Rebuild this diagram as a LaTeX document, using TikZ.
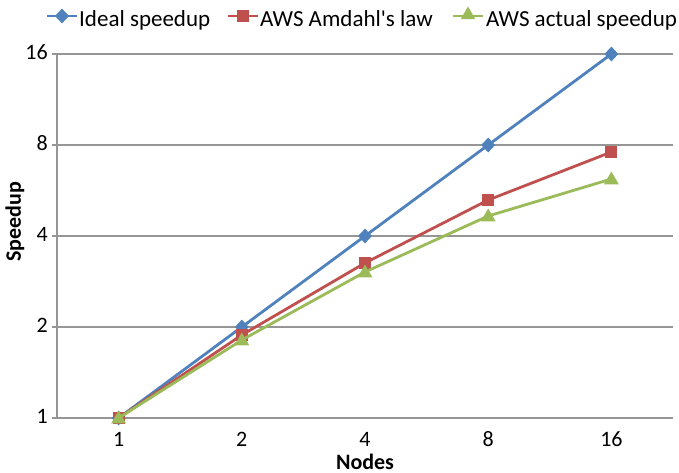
\documentclass[tikz,border=0pt]{standalone}
\usepackage{fontspec}
\setmainfont{Carlito}
\newfontfamily\calib{Carlito}
\usetikzlibrary{shapes.geometric}
\definecolor{sblue}{RGB}{79,129,189}
\definecolor{sred}{RGB}{192,80,77}
\definecolor{sgreen}{RGB}{155,187,89}
\definecolor{gridgray}{RGB}{150,150,150}
\begin{document}
\begin{tikzpicture}[x=1pt,y=-1pt,
  grid/.style={draw=gridgray,line width=2.6pt},
  ser/.style={line width=2.8pt,line join=round},
  dmark/.style={diamond,fill=sblue,inner sep=0pt,minimum width=14pt,minimum height=15pt},
  smark/.style={rectangle,fill=sred,inner sep=0pt,minimum size=12pt},
  tmark/.style={regular polygon,regular polygon sides=3,fill=sgreen,inner sep=0pt,minimum size=17pt},
  ticklab/.style={font=\fontsize{22}{25}\selectfont,inner sep=0pt},
  leglab/.style={font=\calib\fontsize{23}{27}\selectfont,inner sep=0pt,anchor=base west},
  axlab/.style={font=\fontsize{22}{26}\selectfont\bfseries,inner sep=0pt}]
\useasboundingbox (0,0) rectangle (679,473);
% gridlines
\foreach \yy in {54,145,236,327}{
  \draw[grid] (52,\yy) -- (673,\yy);
}
\draw[grid] (52,418) -- (673,418);
\draw[grid] (57,54) -- (57,418);
% y tick labels
\node[ticklab,anchor=east] (y16) at (48,52) {16};
\node[ticklab,anchor=east] (y8) at (48,143) {8};
\node[ticklab,anchor=east] (y4) at (48,234) {4};
\node[ticklab,anchor=east] (y2) at (48,325) {2};
\node[ticklab,anchor=east] (y1) at (48,416) {1};
% x tick labels
\node[ticklab] (x1) at (118.6,439) {1};
\node[ticklab] (x2) at (241.8,439) {2};
\node[ticklab] (x4) at (365,439) {4};
\node[ticklab] (x8) at (488.2,439) {8};
\node[ticklab] (x16) at (611.4,439) {16};
% axis titles
\node[axlab,anchor=base] (xt) at (365,469) {Nodes};
\node[axlab,rotate=90] (yt) at (15,222) {Speedup};
% data coordinates
\coordinate (b1) at (118.6,418);
\coordinate (b2) at (241.8,327);
\coordinate (b3) at (365,236);
\coordinate (b4) at (488.2,145);
\coordinate (b5) at (611.4,54);
\coordinate (r1) at (118.6,418);
\coordinate (r2) at (241.8,335);
\coordinate (r3) at (365,263);
\coordinate (r4) at (488.2,200);
\coordinate (r5) at (611.4,152);
\coordinate (g1) at (118.6,418);
\coordinate (g2) at (241.8,340);
\coordinate (g3) at (365,272);
\coordinate (g4) at (488.2,216);
\coordinate (g5) at (611.4,179);
% series
\draw[ser,sblue] (b1) -- (b2) -- (b3) -- (b4) -- (b5);
\foreach \p in {b1,b2,b3,b4,b5} \node[dmark] at (\p) {};
\draw[ser,sred] (r1) -- (r2) -- (r3) -- (r4) -- (r5);
\foreach \p in {r1,r2,r3,r4,r5} \node[smark] at (\p) {};
\draw[ser,sgreen] (g1) -- (g2) -- (g3) -- (g4) -- (g5);
\foreach \p in {g1,g2,g3,g4,g5} \node[tmark] at ([yshift=-1pt]\p) {};
% legend
\coordinate (lb1) at (47,16); \coordinate (lb2) at (77,16);
\draw[ser,sblue] (lb1) -- (lb2);
\node[dmark] (lbm) at (62,16) {};
\node[leglab] (lbt) at (79,27) {Ideal speedup};
\coordinate (lr1) at (228,16); \coordinate (lr2) at (258,16);
\draw[ser,sred] (lr1) -- (lr2);
\node[smark] (lrm) at (243,16) {};
\node[leglab] (lrt) at (260,27) {AWS Amdahl's law};
\coordinate (lg1) at (453,16); \coordinate (lg2) at (483,16);
\draw[ser,sgreen] (lg1) -- (lg2);
\node[tmark] (lgm) at (468,15) {};
\node[leglab] (lgt) at (486,27) {AWS actual speedup};
\end{tikzpicture}
\end{document}
